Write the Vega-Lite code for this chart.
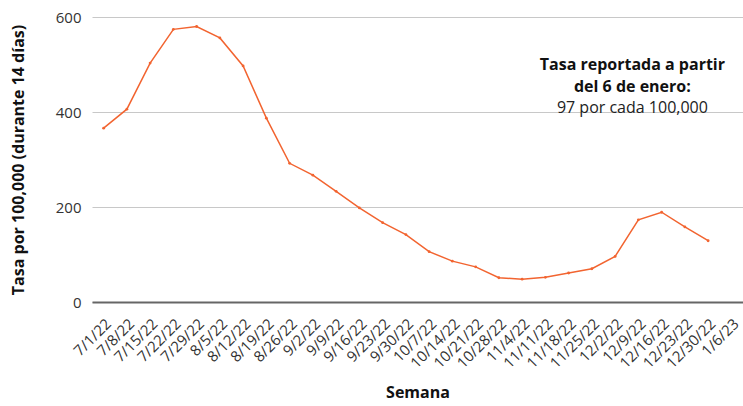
{
  "$schema": "https://vega.github.io/schema/vega-lite/v6.json",
  "width": 651,
  "height": 285,
  "autosize": {"type": "none"},
  "padding": {"left": 92, "top": 17, "right": 0, "bottom": 104},
  "config": {
    "font": "Open Sans",
    "view": {"stroke": null}
  },
  "datasets": {
    "rates": [
      {"semana": "7/1/22", "tasa": 366},
      {"semana": "7/8/22", "tasa": 406},
      {"semana": "7/15/22", "tasa": 503},
      {"semana": "7/22/22", "tasa": 574},
      {"semana": "7/29/22", "tasa": 580},
      {"semana": "8/5/22", "tasa": 556},
      {"semana": "8/12/22", "tasa": 497},
      {"semana": "8/19/22", "tasa": 387},
      {"semana": "8/26/22", "tasa": 292},
      {"semana": "9/2/22", "tasa": 267},
      {"semana": "9/9/22", "tasa": 233},
      {"semana": "9/16/22", "tasa": 198},
      {"semana": "9/23/22", "tasa": 167},
      {"semana": "9/30/22", "tasa": 142},
      {"semana": "10/7/22", "tasa": 106},
      {"semana": "10/14/22", "tasa": 86},
      {"semana": "10/21/22", "tasa": 74},
      {"semana": "10/28/22", "tasa": 51},
      {"semana": "11/4/22", "tasa": 48},
      {"semana": "11/11/22", "tasa": 52},
      {"semana": "11/18/22", "tasa": 61},
      {"semana": "11/25/22", "tasa": 70},
      {"semana": "12/2/22", "tasa": 96},
      {"semana": "12/9/22", "tasa": 173},
      {"semana": "12/16/22", "tasa": 189},
      {"semana": "12/23/22", "tasa": 158},
      {"semana": "12/30/22", "tasa": 129}
    ]
  },
  "data": {"name": "rates"},
  "layer": [
    {
      "mark": {"type": "line", "color": "#F26430", "strokeWidth": 1.5, "point": {"color": "#F26430", "size": 8}},
      "encoding": {
        "x": {
          "field": "semana",
          "type": "ordinal",
          "sort": null,
          "scale": {
            "type": "band",
            "paddingInner": 0,
            "paddingOuter": 0,
            "domain": ["7/1/22","7/8/22","7/15/22","7/22/22","7/29/22","8/5/22","8/12/22","8/19/22","8/26/22","9/2/22","9/9/22","9/16/22","9/23/22","9/30/22","10/7/22","10/14/22","10/21/22","10/28/22","11/4/22","11/11/22","11/18/22","11/25/22","12/2/22","12/9/22","12/16/22","12/23/22","12/30/22","1/6/23"]
          },
          "axis": {
            "title": "Semana",
            "titleFontSize": 16,
            "titleFontWeight": "bold",
            "titleColor": "#111",
            "titlePadding": 14,
            "labelAngle": -45,
            "labelFontSize": 15,
            "labelColor": "#333",
            "labelPadding": 14,
            "labelOffset": 0,
            "ticks": false,
            "domainColor": "#666",
            "domainWidth": 2,
            "grid": false
          }
        },
        "y": {
          "field": "tasa",
          "type": "quantitative",
          "scale": {"domain": [0, 600]},
          "axis": {
            "title": "Tasa por 100,000 (durante 14 días)",
            "titleFontSize": 16,
            "titleFontWeight": "bold",
            "titleColor": "#111",
            "titlePadding": 29,
            "values": [0, 200, 400, 600],
            "labelFontSize": 15,
            "labelColor": "#333",
            "labelPadding": 11,
            "ticks": false,
            "domain": false,
            "gridColor": "#c8c8c8",
            "gridWidth": 1
          }
        }
      }
    },
    {
      "mark": {"type": "text", "fontWeight": "bold", "fontSize": 16, "color": "#111", "align": "center", "baseline": "middle", "lineHeight": 22, "dx": -6},
      "data": {"values": [{"t": ["Tasa reportada a partir", "del 6 de enero:"]}]},
      "encoding": {
        "x": {"datum": "12/9/22"},
        "y": {"datum": 499},
        "text": {"field": "t"}
      }
    },
    {
      "mark": {"type": "text", "fontSize": 16, "color": "#222", "align": "center", "baseline": "middle", "dx": -6},
      "data": {"values": [{"t": "97 por cada 100,000"}]},
      "encoding": {
        "x": {"datum": "12/9/22"},
        "y": {"datum": 408},
        "text": {"field": "t"}
      }
    }
  ]
}
